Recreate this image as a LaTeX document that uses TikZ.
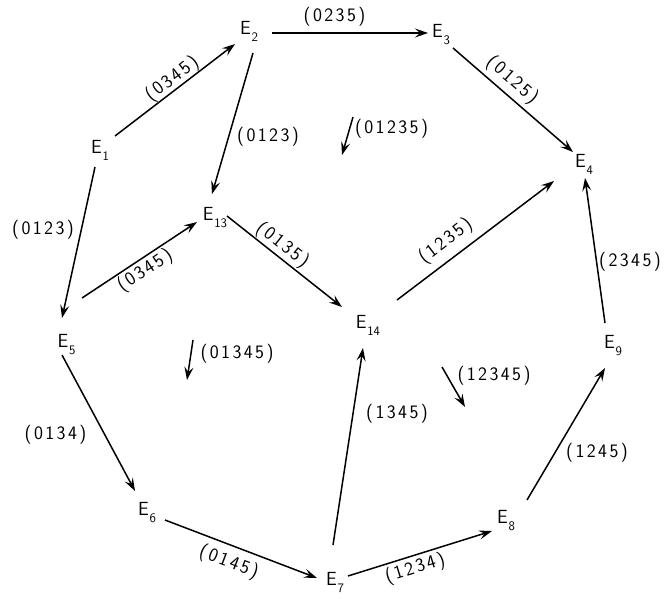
\documentclass[tikz,border=0pt]{standalone}
\usepackage{fontspec}
\usetikzlibrary{arrows.meta,calc}
\newcommand\efont{\sffamily\fontsize{19}{19}\selectfont}
\newcommand\labfont{\sffamily\fontsize{19}{19}\selectfont}
\newcommand\Esub[1]{E\kern0.8pt\raisebox{-7pt}{\fontsize{13}{13}\selectfont #1}}
\def\lsA#1{\ifx\relax#1\else#1\kern2.4pt\expandafter\lsA\fi}
\newcommand\ls[1]{\lsA#1\relax\unkern}
\tikzset{
  arr/.style={line width=1.5pt, -{Stealth[length=13pt,width=9pt,inset=5pt]}},
  enode/.style={inner sep=0pt, font=\efont},
  lab/.style={inner sep=0pt, font=\labfont},
}
\begin{document}
\begin{tikzpicture}[x=1pt,y=-1pt]
\useasboundingbox (0,0) rectangle (667,598);
% states
\node[enode] (E1) at (100,150) {\Esub{1}};
\node[enode] (E2) at (249,31.5) {\Esub{2}};
\node[enode] (E3) at (441,34.5) {\Esub{3}};
\node[enode] (E4) at (584,164.5) {\Esub{4}};
\node[enode] (E13) at (215,217.5) {\Esub{13}};
\node[enode] (E5) at (66.5,344.5) {\Esub{5}};
\node[enode] (E14) at (368,325) {\Esub{14}};
\node[enode] (E9) at (613,346) {\Esub{9}};
\node[enode] (E6) at (147,512.5) {\Esub{6}};
\node[enode] (E7) at (335,582) {\Esub{7}};
\node[enode] (E8) at (506,521) {\Esub{8}};
% transitions
\draw[arr] ($(E1)+(15,-14)$) -- node[lab,sloped,above=0pt,pos=0.53] (l1) {\ls{(0345)}} ($(E2)+(-14,12.5)$);
\draw[arr] ($(E2)+(23,1.5)$) -- ($(E3)+(-13,-1.5)$);
\node[lab] (l2) at (334.5,16.5) {\ls{(0235)}};
\draw[arr] ($(E2)+(4,21.5)$) -- ($(E13)+(-3,-23.5)$);
\node[lab] (l3) at (268,137) {\ls{(0123)}};
\draw[arr] ($(E3)+(12,13.5)$) -- node[lab,sloped,above=4pt,pos=0.415] (l4) {\ls{(0125)}} ($(E4)+(-11,-12.5)$);
\draw[arr] ($(E1)+(-5,17)$) -- ($(E5)+(-4.5,-26.5)$);
\node[lab] (l5) at (43,230) {\ls{(0123)}};
\draw[arr] ($(E5)+(15.5,-46.5)$) -- node[lab,sloped,below=2pt,pos=0.49] (l6) {\ls{(0345)}} ($(E13)+(-18,4.5)$);
\draw[arr] ($(E13)+(12,-1.5)$) -- node[lab,sloped,above=1pt,pos=0.42] (l7) {\ls{(0135)}} ($(E14)+(-26,-18)$);
\draw[arr] ($(E14)+(29,-25)$) -- node[lab,sloped,above=7pt,pos=0.377] (l8) {\ls{(1235)}} ($(E4)+(-30,16.5)$);
\draw[arr] ($(E9)+(-8,-23)$) -- ($(E4)+(1,13.5)$);
\node[lab] (l9) at (630,262) {\ls{(2345)}};
\draw[arr] ($(E5)+(-4.5,10.5)$) -- ($(E6)+(-12,-21.5)$);
\node[lab] (l10) at (55.5,434.5) {\ls{(0134)}};
\draw[arr] ($(E6)+(18,7.5)$) -- node[lab,sloped,below=6.7pt,pos=0.46] (l11) {\ls{(0145)}} ($(E7)+(-18,-4)$);
\draw[arr] ($(E7)+(-2,-37)$) -- ($(E14)+(-5,23)$);
\node[lab] (l12) at (397,414) {\ls{(1345)}};
\draw[arr] ($(E7)+(13,-6)$) -- node[lab,sloped,below=2.8pt,pos=0.44] (l13) {\ls{(1234)}} ($(E8)+(-14,10)$);
\draw[arr] ($(E8)+(21,-21)$) -- ($(E9)+(-8,22)$);
\node[lab] (l14) at (597,453) {\ls{(1245)}};
% free arrows
\coordinate (f1a) at (353,117);
\coordinate (f1b) at (342,155);
\draw[arr] (f1a) -- (f1b);
\node[lab] (l15) at (391.5,129) {\ls{(01235)}};
\coordinate (f2a) at (193,340);
\coordinate (f2b) at (187,380);
\draw[arr] (f2a) -- (f2b);
\node[lab] (l16) at (237,354) {\ls{(01345)}};
\coordinate (f3a) at (442,367);
\coordinate (f3b) at (465,407);
\draw[arr] (f3a) -- (f3b);
\node[lab] (l17) at (494,376) {\ls{(12345)}};
\end{tikzpicture}
\end{document}
